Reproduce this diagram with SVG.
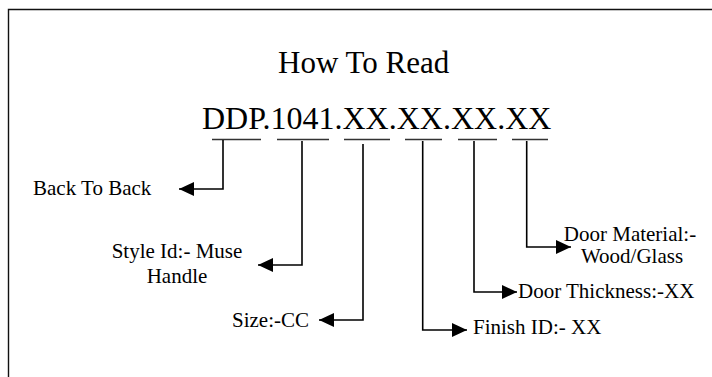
<svg xmlns="http://www.w3.org/2000/svg" width="712" height="377" viewBox="0 0 712 377">
<style>
text{font-family:"Liberation Serif","Times New Roman",serif;fill:#000}
.lbl{font-size:21px}
.big{font-size:32px}
.frame{stroke:#111;stroke-width:1.4;fill:none}
.ul{stroke:#333;stroke-width:1.4;fill:none}
.conn{stroke:#000;stroke-width:1.6;fill:none}
</style>
<defs>
<marker id="ah" markerUnits="userSpaceOnUse" markerWidth="16" markerHeight="14" refX="15" refY="7" orient="auto">
<path d="M0,0 L15,7 L0,14 Z" fill="#000"/>
</marker>
</defs>
<rect width="712" height="377" fill="#fff"/>
<path class="frame" d="M8.5,377 V9.5 H712"/>
<g id="title">
<text x="278" y="73" style="font-size:31px">How To Read</text>
</g>
<g id="code">
<text class="big" x="202" y="129">DDP.1041.XX.XX.XX.XX</text>
<path class="ul" d="M212,139.5 H261 M277,139.5 H329 M344,139.5 H390 M405,139.5 H442 M458,139.5 H497 M512,139.5 H548"/>
</g>
<g id="connectors">
<path class="conn" d="M223,140 V189 H179" marker-end="url(#ah)"/>
<path class="conn" d="M302,141 V265 H258" marker-end="url(#ah)"/>
<path class="conn" d="M363,144 V320 H319" marker-end="url(#ah)"/>
<path class="conn" d="M422.7,141 V330 H467" marker-end="url(#ah)"/>
<path class="conn" d="M474,141 V292 H517" marker-end="url(#ah)"/>
<path class="conn" d="M526.7,141 V247 H571" marker-end="url(#ah)"/>
</g>
<g id="back-to-back">
<text class="lbl" x="33" y="195">Back To Back</text>
</g>
<g id="style-id">
<text class="lbl" x="177" y="258" text-anchor="middle">Style Id:- Muse</text>
<text class="lbl" x="177" y="283" text-anchor="middle">Handle</text>
</g>
<g id="size">
<text class="lbl" x="232" y="327">Size:-CC</text>
</g>
<g id="finish">
<text class="lbl" x="473" y="334">Finish ID:- XX</text>
</g>
<g id="thickness">
<text class="lbl" x="518" y="298">Door Thickness:-XX</text>
</g>
<g id="material">
<text class="lbl" x="630" y="241" text-anchor="middle">Door Material:-</text>
<text class="lbl" x="632" y="263" text-anchor="middle">Wood/Glass</text>
</g>
</svg>
